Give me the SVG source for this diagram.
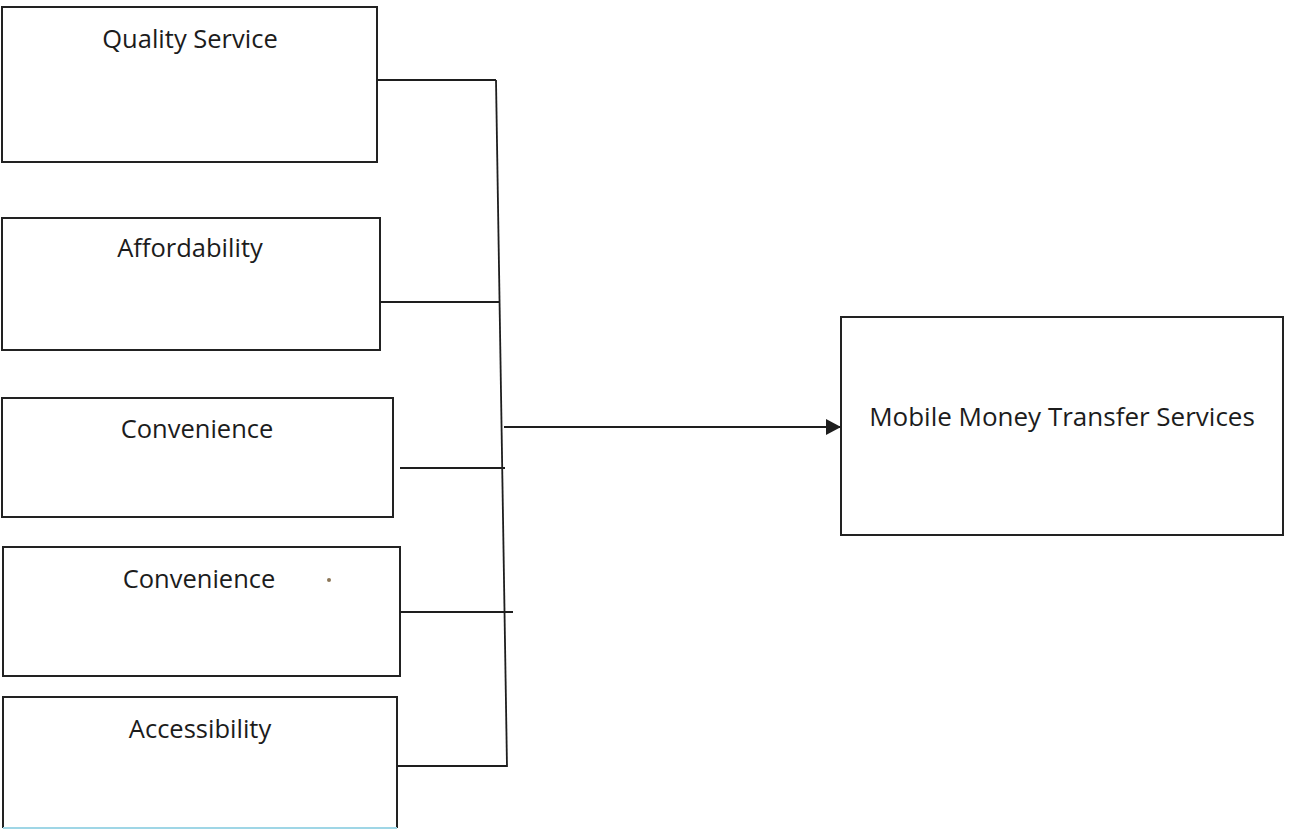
<svg xmlns="http://www.w3.org/2000/svg" width="1289" height="831" viewBox="0 0 1289 831">
  <style>
    .box { fill: none; stroke: #222222; stroke-width: 2; }
    .label { font-family: "Open Sans", "Liberation Sans", sans-serif; font-size: 25.5px; fill: #1c1c1c; text-anchor: middle; }
    .big { font-size: 26px; }
    .wire { fill: none; stroke: #1e1e1e; stroke-width: 1.8; }
  </style>
  <defs>
    <marker id="arrow" markerWidth="15" markerHeight="16" refX="14" refY="8" orient="auto" markerUnits="userSpaceOnUse" viewBox="0 0 15 16">
      <path d="M0,0 L15,8 L0,16 Z" fill="#1e1e1e"/>
    </marker>
  </defs>
  <rect width="1289" height="831" fill="#ffffff"/>

  <g id="quality-service">
    <rect class="box" x="2" y="7" width="375" height="155"/>
    <text class="label" x="190" y="48">Quality Service</text>
  </g>
  <g id="affordability">
    <rect class="box" x="2" y="218" width="378" height="132"/>
    <text class="label" x="190" y="257">Affordability</text>
  </g>
  <g id="convenience-1">
    <rect class="box" x="2" y="398" width="391" height="119"/>
    <text class="label" x="197" y="438">Convenience</text>
  </g>
  <g id="convenience-2">
    <rect class="box" x="3" y="547" width="397" height="129"/>
    <text class="label" x="199" y="588">Convenience</text>
  </g>
  <g id="accessibility">
    <path d="M3,828 L3,697 L397,697 L397,828" fill="none" stroke="#222222" stroke-width="2"/>
    <line x1="3" y1="828" x2="397" y2="828" stroke="#9fd6e6" stroke-width="2"/>
    <text class="label" x="200" y="738">Accessibility</text>
  </g>
  <g id="mobile-money-transfer-services">
    <rect class="box" x="841" y="317" width="442" height="218"/>
    <text class="label big" x="1062" y="426">Mobile Money Transfer Services</text>
  </g>

  <g id="connectors">
    <!-- shared bus running down the right side of the factor boxes -->
    <line class="wire" x1="496" y1="80" x2="507" y2="767"/>
    <line class="wire" x1="377" y1="80" x2="496" y2="80"/>
    <line class="wire" x1="380" y1="302" x2="500" y2="302"/>
    <line class="wire" x1="400" y1="468" x2="505" y2="468"/>
    <line class="wire" x1="400" y1="612" x2="513" y2="612"/>
    <line class="wire" x1="397" y1="766" x2="507" y2="766"/>
    <line class="wire" x1="504" y1="427" x2="840" y2="427" marker-end="url(#arrow)"/>
  </g>

  <circle cx="329" cy="580" r="2" fill="#8c7658"/>
</svg>
